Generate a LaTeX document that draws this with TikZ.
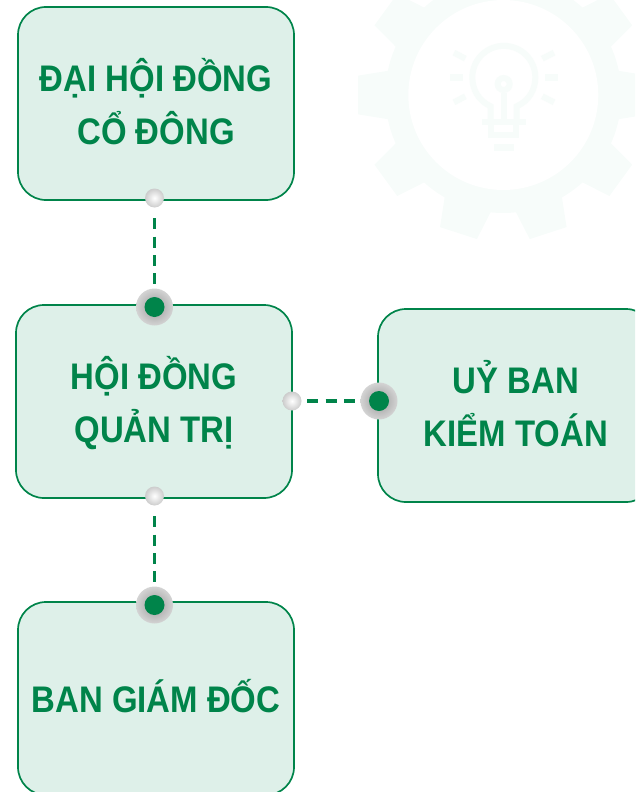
\documentclass[tikz,border=0pt]{standalone}
\usepackage{fontspec}
\setmainfont[FakeStretch=0.89]{Liberation Sans}
\definecolor{boxfill}{HTML}{DEF0E9}
\definecolor{brand}{HTML}{00844A}
\definecolor{ghost}{HTML}{F7FCFA}
\newcommand\nudgetext[2]{\raisebox{#1}[\height][\depth]{#2}}
\tikzset{
  x=1pt,y=-1pt,
  orgbox/.style={draw=brand,line width=1.7pt,fill=boxfill,rounded corners=28pt,minimum width=276pt,minimum height=193pt,inner sep=0pt,align=center,text=brand,font=\fontsize{37}{53}\selectfont\bfseries},
  smalldot/.style={circle,minimum size=19pt,inner sep=0pt,shade,inner color=white,outer color=black!20},
  bigdot/.style={circle,minimum size=37pt,inner sep=0pt,shade,inner color=black!40,outer color=black!17},
  core/.style={circle,minimum size=20pt,inner sep=0pt,fill=brand},
  link/.style={draw=brand,line width=3.1pt,dash pattern=on 11pt off 7.4pt},
  bulb/.style={draw=ghost,line width=6pt},
  bulbfill/.style={fill=ghost},
}
\begin{document}
\begin{tikzpicture}
\clip (0,0) rectangle (635,792);
% gear
\begin{scope}[shift={(503.3pt,-95pt)}]
  \fill[ghost] (0,0) circle[radius=118];
  \foreach \a in {0,36,...,324}{
    \fill[ghost] (\a-12.2:116) -- (\a-7.6:146.5) -- (\a+7.6:146.5) -- (\a+12.2:116) -- cycle;
  }
  \fill[white] (0,0) circle[radius=95];
\end{scope}
% bulb, in thirds of a pixel
\begin{scope}[shift={(340pt,0pt)},x=0.33333pt,y=-0.33333pt]
  \draw[bulb] (452,368) -- (452,319) .. controls (415,302) and (397,268) .. (397,232)
     arc[start angle=180,end angle=0,radius=94.5,y radius=-94.5]
     .. controls (586,268) and (568,302) .. (530,319) -- (530,368);
  \draw[bulb] (491,278) -- (491,360);
  \draw[bulb] (491,252) circle[radius=18];
  \fill[bulbfill] (425,358) rectangle (557,375);
  \draw[bulb] (453.5,375) -- (453.5,405) -- (529,405) -- (529,375);
  \fill[bulbfill] (462,432) rectangle (522,452);
  \fill[bulbfill] (331,222) rectangle (368,242);
  \fill[bulbfill] (615,222) rectangle (653,242);
  \draw[bulb] (342,158) -- (376,176);
  \draw[bulb] (642,158) -- (607,176);
  \draw[bulb] (342,307) -- (376,289);
  \draw[bulb] (642,307) -- (607,289);
\end{scope}
% boxes
\node[orgbox] (dh) at (156,103.5) {\nudgetext{2pt}{ĐẠI HỘI ĐỒNG}\\\nudgetext{1.5pt}{CỔ ĐÔNG}};
\node[orgbox] (hd) at (154,401.5) {\nudgetext{-2pt}{HỘI ĐỒNG}\\\nudgetext{-2pt}{QUẢN TRỊ}};
\node[orgbox] (ub) at (516,405.5) {\nudgetext{2pt}{UỶ BAN}\\\nudgetext{2pt}{KIỂM TOÁN}};
\node[orgbox] (bg) at (156,698.5) {\nudgetext{2pt}{BAN GIÁM ĐỐC}};
% dots
\node[smalldot] (s1) at (154.5,198) {};
\node[bigdot] (b1) at (154.5,307) {};
\node[core] (c1) at (154.5,307) {};
\node[smalldot] (s2) at (292,401) {};
\node[bigdot] (b2) at (379,401) {};
\node[core] (c2) at (379,401) {};
\node[smalldot] (s3) at (154.5,496) {};
\node[bigdot] (b3) at (154.5,605) {};
\node[core] (c3) at (154.5,605) {};
% connectors
\draw[link,shorten <=10.5pt,shorten >=3.5pt] (s1) -- (b1);
\draw[link,shorten <=5.5pt,shorten >=5pt] (s2) -- (b2);
\draw[link,shorten <=10.5pt,shorten >=3.5pt] (s3) -- (b3);
\end{tikzpicture}
\end{document}
